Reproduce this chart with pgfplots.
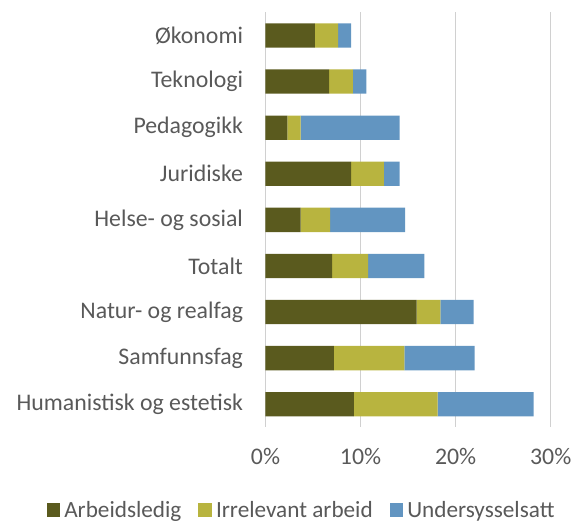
\documentclass[border=0pt]{standalone}
\usepackage{pgfplots}
\pgfplotsset{compat=1.18}
\usepackage{fontspec}
\setmainfont{Carlito}
\definecolor{cA}{HTML}{5A5A1E}
\definecolor{cB}{HTML}{B8B43F}
\definecolor{cC}{HTML}{6295C1}
\definecolor{txt}{HTML}{595959}
\definecolor{grd}{HTML}{D0D0D0}
\begin{document}
\begin{tikzpicture}
\useasboundingbox (0,0) rectangle (573pt,522pt);
\begin{axis}[
  at={(265.5pt,94.75pt)}, anchor=south west,
  scale only axis, width=285.2pt, height=414.8pt,
  xbar stacked, bar width=24.3pt,
  xmin=0, xmax=30, ymin=-0.5, ymax=8.5,
  y dir=reverse,
  xtick={0,10,20,30}, xticklabels={0\%,10\%,20\%,30\%},
  ytick={0,...,8},
  yticklabels={Økonomi,Teknologi,Pedagogikk,Juridiske,Helse- og sosial,Totalt,Natur- og realfag,Samfunnsfag,Humanistisk og estetisk},
  axis line style={draw=none},
  major tick length=0pt,
  xmajorgrids, grid style={grd, line width=1.6pt},
  ticklabel style={font=\fontsize{23.8}{28}\selectfont, text=txt},
  xticklabel style={yshift=-17pt},
  yticklabel style={xshift=-19pt},
  legend columns=3,
  legend style={draw=none, at={(0.13,-0.2)}, anchor=center,
    font=\fontsize{23.2}{28}\selectfont, text=txt,
    nodes={inner xsep=4pt, inner ysep=0pt},
    /tikz/every even column/.append style={column sep=13pt}},
  legend image code/.code={\path[#1,draw=none] (0pt,-6.8pt) rectangle (13.6pt,6.8pt);},
]
\addplot[fill=cA, draw=none] coordinates {(5.2,0) (6.7,1) (2.3,2) (9.0,3) (3.7,4) (7.0,5) (15.9,6) (7.2,7) (9.3,8)};
\addplot[fill=cB, draw=none] coordinates {(2.45,0) (2.5,1) (1.4,2) (3.45,3) (3.1,4) (3.8,5) (2.5,6) (7.4,7) (8.8,8)};
\addplot[fill=cC, draw=none] coordinates {(1.35,0) (1.4,1) (10.4,2) (1.65,3) (7.9,4) (5.9,5) (3.5,6) (7.4,7) (10.1,8)};
\legend{Arbeidsledig,Irrelevant arbeid,Undersysselsatt}
\end{axis}
\end{tikzpicture}
\end{document}
